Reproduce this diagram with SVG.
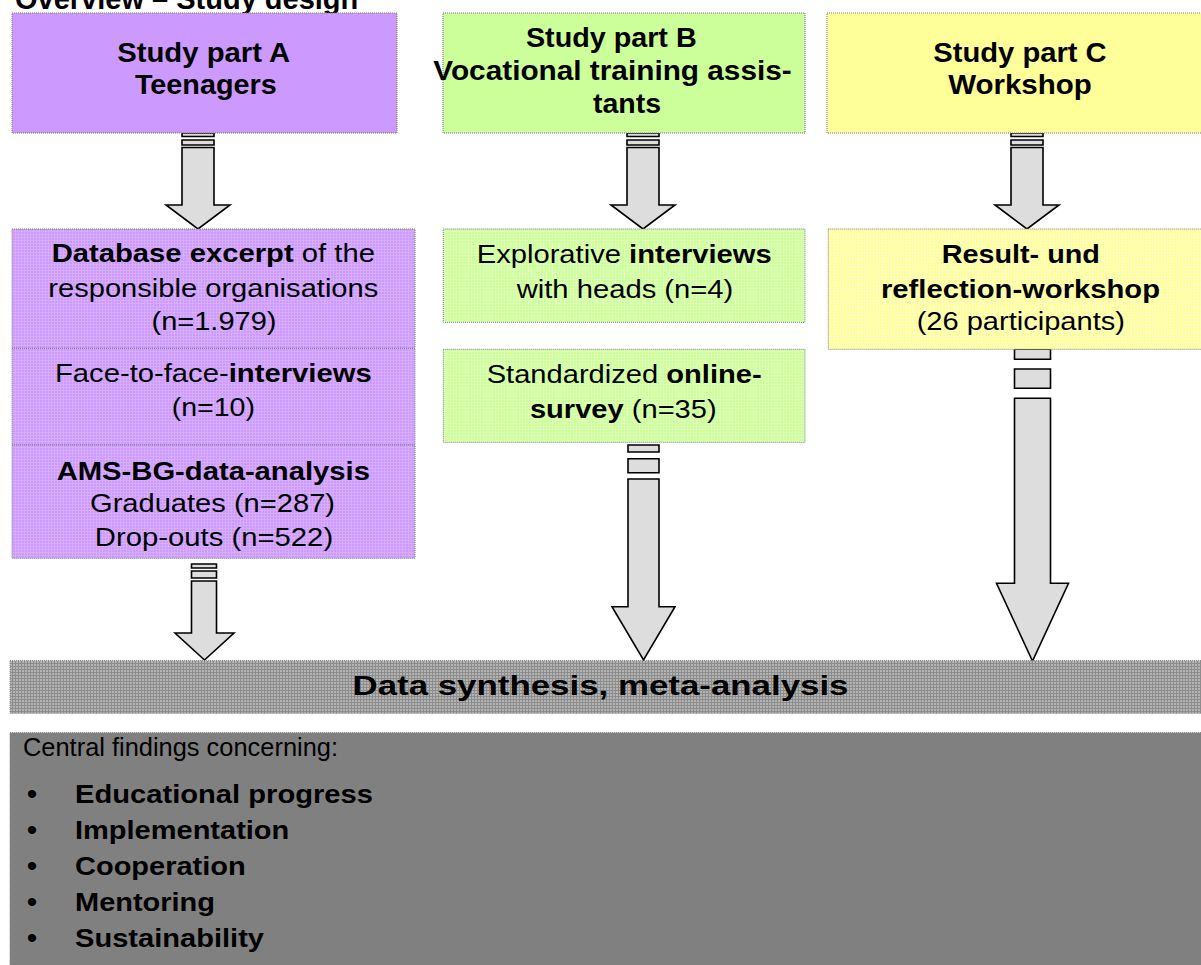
<svg xmlns="http://www.w3.org/2000/svg" width="1201" height="965" viewBox="0 0 1201 965">
<defs>
<style>
text{font-family:"Liberation Sans",Arial,sans-serif;fill:#000}
.t{font-size:28.5px;font-weight:bold;text-anchor:middle}
.b{font-size:26px;text-anchor:middle}
.bold{font-weight:bold}
.box{stroke:#7a7a7a;stroke-width:1;stroke-dasharray:1 1}
.arrow{fill:#dddddd;stroke:#000;stroke-width:1.6;stroke-linejoin:miter}
.li{font-size:26.5px;font-weight:bold}
.dot{font-size:30px;text-anchor:middle}
</style>
<pattern id="pA" width="3" height="3" patternUnits="userSpaceOnUse"><rect width="3" height="3" fill="#cc99ff"/><rect width="3" height="1" fill="#d6adff"/><rect width="1" height="3" fill="#d6adff"/></pattern>
<pattern id="pB" width="3" height="3" patternUnits="userSpaceOnUse"><rect width="3" height="3" fill="#ccff99"/><rect width="3" height="1" fill="#dbffb5"/><rect width="1" height="3" fill="#dbffb5"/></pattern>
<pattern id="pC" width="3" height="3" patternUnits="userSpaceOnUse"><rect width="3" height="3" fill="#ffff99"/><rect width="3" height="1" fill="#ffffbb"/><rect width="1" height="3" fill="#ffffbb"/></pattern>
<pattern id="pD" width="3" height="3" patternUnits="userSpaceOnUse"><rect width="3" height="3" fill="#b4b4b4"/><rect width="3" height="1" fill="#8c8c8c"/><rect width="1" height="3" fill="#8c8c8c"/></pattern>
</defs>
<rect width="1201" height="965" fill="#fff"/>

<g id="title"><text x="15" y="9" style="font-size:29px;font-weight:bold">Overview – Study design</text></g>

<g id="connectors">
<path class="arrow" d="M182 133h32v3.5h-32z M182 140h32v5h-32z M182 147.5h32v57.5h16l-32 24l-32 -24h16z"/>
<path class="arrow" d="M627 133h32v3.5h-32z M627 140h32v5h-32z M627 147.5h32v57.5h16l-32 24l-32 -24h16z"/>
<path class="arrow" d="M1011 133h32v3.5h-32z M1011 140h32v5h-32z M1011 147.5h32v57.5h16l-32 24l-32 -24h16z"/>
<path class="arrow" d="M191.5 564h25v4h-25z M191.5 571h25v7h-25z M191.5 581h25v52h17.5l-29.5 27l-29.5 -27h16.5z"/>
<path class="arrow" d="M628 445h31v7h-31z M628 458.7h31v14h-31z M628 479h31v127.7h16l-31.5 53.3l-31.5 -53.3h16z"/>
<path class="arrow" d="M1014.5 349.3h36v10h-36z M1014.5 369h36v19.3h-36z M1014.5 398.3h36v185h18l-36 77.7l-36 -77.7h18z"/>
</g>

<g id="partA">
<rect class="box" x="12" y="13" width="385" height="120" fill="#cc99ff"/>
<text class="t" x="203.7" y="61.7" textLength="173" lengthAdjust="spacingAndGlyphs">Study part A</text>
<text class="t" x="205.8" y="94.3" textLength="141.7" lengthAdjust="spacingAndGlyphs">Teenagers</text>
</g>
<g id="partB">
<rect class="box" x="443" y="13" width="362" height="120" fill="#ccff99"/>
<text class="t" x="611.3" y="46.7" textLength="170.7" lengthAdjust="spacingAndGlyphs">Study part B</text>
<text class="t" x="612.5" y="80" textLength="358.4" lengthAdjust="spacingAndGlyphs">Vocational training assis-</text>
<text class="t" x="627" y="113">tants</text>
</g>
<g id="partC">
<rect class="box" x="827" y="13" width="380" height="120" fill="#ffff99"/>
<text class="t" x="1020" y="61.7" textLength="173.4" lengthAdjust="spacingAndGlyphs">Study part C</text>
<text class="t" x="1020" y="94.3" textLength="143.7" lengthAdjust="spacingAndGlyphs">Workshop</text>
</g>

<g id="a-database">
<rect class="box" x="12" y="229" width="403" height="119.3" fill="url(#pA)"/>
<text class="b" x="213.3" y="262.3" textLength="323.3" lengthAdjust="spacingAndGlyphs"><tspan class="bold">Database excerpt</tspan> of the</text>
<text class="b" x="213.3" y="296.7" textLength="330" lengthAdjust="spacingAndGlyphs">responsible organisations</text>
<text class="b" x="214" y="330" textLength="125" lengthAdjust="spacingAndGlyphs">(n=1.979)</text>
</g>
<g id="a-interviews">
<rect class="box" x="12" y="348.3" width="403" height="96.7" fill="url(#pA)"/>
<text class="b" x="213.3" y="381.7" textLength="316.7" lengthAdjust="spacingAndGlyphs">Face-to-face-<tspan class="bold">interviews</tspan></text>
<text class="b" x="213.3" y="415.5" textLength="83.3" lengthAdjust="spacingAndGlyphs">(n=10)</text>
</g>
<g id="a-ams">
<rect class="box" x="12" y="445" width="403" height="113.3" fill="url(#pA)"/>
<text class="b bold" x="213.3" y="480" textLength="313.3" lengthAdjust="spacingAndGlyphs">AMS-BG-data-analysis</text>
<text class="b" x="212.5" y="512.3" textLength="245" lengthAdjust="spacingAndGlyphs">Graduates (n=287)</text>
<text class="b" x="214" y="545.7" textLength="238.3" lengthAdjust="spacingAndGlyphs">Drop-outs (n=522)</text>
</g>

<g id="b-interviews">
<rect class="box" x="443.3" y="229" width="361.7" height="93.3" fill="url(#pB)"/>
<text class="b" x="624.2" y="263.3" textLength="295" lengthAdjust="spacingAndGlyphs">Explorative <tspan class="bold">interviews</tspan></text>
<text class="b" x="625" y="297.7" textLength="216.7" lengthAdjust="spacingAndGlyphs">with heads (n=4)</text>
</g>
<g id="b-survey">
<rect class="box" x="443.3" y="349.3" width="361.7" height="93" fill="url(#pB)"/>
<text class="b" x="624.2" y="383.3" textLength="275" lengthAdjust="spacingAndGlyphs">Standardized <tspan class="bold">online-</tspan></text>
<text class="b" x="623.3" y="418.3" textLength="186.7" lengthAdjust="spacingAndGlyphs"><tspan class="bold">survey</tspan> (n=35)</text>
</g>

<g id="c-workshop">
<rect class="box" x="828.3" y="229" width="380" height="120.3" fill="url(#pC)"/>
<text class="b bold" x="1020.8" y="263.3" textLength="158.3" lengthAdjust="spacingAndGlyphs">Result- und</text>
<text class="b bold" x="1020.5" y="297.7" textLength="279" lengthAdjust="spacingAndGlyphs">reflection-workshop</text>
<text class="b" x="1020.8" y="330" textLength="208.3" lengthAdjust="spacingAndGlyphs">(26 participants)</text>
</g>

<g id="synthesis">
<rect class="box" x="10" y="660.7" width="1200" height="52.6" fill="url(#pD)"/>
<text x="600.5" y="695" style="font-size:28px;font-weight:bold;text-anchor:middle" textLength="496" lengthAdjust="spacingAndGlyphs">Data synthesis, meta-analysis</text>
</g>

<g id="findings">
<rect class="box" x="10" y="732.7" width="1200" height="240" fill="#808080" stroke="#b0b0b0"/>
<text x="23" y="756" style="font-size:25px" textLength="315" lengthAdjust="spacingAndGlyphs">Central findings concerning:</text>
<text class="dot" x="32" y="804">•</text>
<text class="li" x="75" y="803" textLength="298" lengthAdjust="spacingAndGlyphs">Educational progress</text>
<text class="dot" x="32" y="840">•</text>
<text class="li" x="75" y="839" textLength="214.3" lengthAdjust="spacingAndGlyphs">Implementation</text>
<text class="dot" x="32" y="876">•</text>
<text class="li" x="75" y="875" textLength="170.7" lengthAdjust="spacingAndGlyphs">Cooperation</text>
<text class="dot" x="32" y="912">•</text>
<text class="li" x="75" y="911" textLength="140" lengthAdjust="spacingAndGlyphs">Mentoring</text>
<text class="dot" x="32" y="948">•</text>
<text class="li" x="75" y="947" textLength="189" lengthAdjust="spacingAndGlyphs">Sustainability</text>
</g>
</svg>
